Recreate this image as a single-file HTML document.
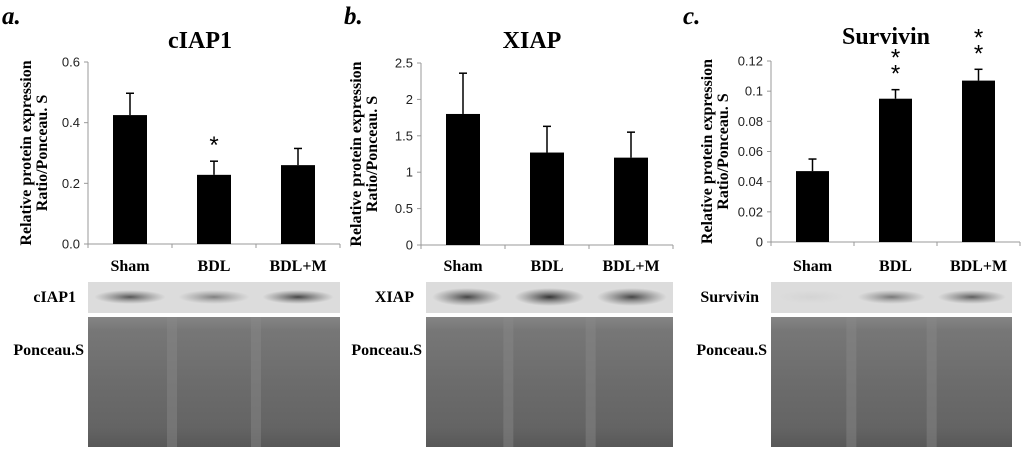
<!DOCTYPE html>
<html><head><meta charset="utf-8"><style>
html,body{margin:0;padding:0;background:#fff;width:1024px;height:453px;overflow:hidden}
svg{display:block}
.serif{font-family:"Liberation Serif",serif;font-weight:bold}
.tick{font-family:"Liberation Sans",sans-serif;font-size:13px;fill:#222}
</style></head><body>
<svg id="fig" width="1024" height="453" xmlns="http://www.w3.org/2000/svg">
<defs>
<linearGradient id="pon" x1="0" y1="0" x2="0" y2="1">
<stop offset="0" stop-color="#858585"/><stop offset="0.1" stop-color="#777"/><stop offset="0.5" stop-color="#6c6c6c"/><stop offset="0.85" stop-color="#646464"/><stop offset="1" stop-color="#585858"/>
</linearGradient>
<radialGradient id="band" cx="0.5" cy="0.5" r="0.5"><stop offset="0" stop-color="#222" stop-opacity="0.9"/><stop offset="1" stop-color="#555" stop-opacity="0"/></radialGradient>
</defs>
</svg>
<script>
var categories = ["Sham","BDL","BDL+M"];
var titles = ["cIAP1","XIAP","Survivin"];
var letters = ["a.","b.","c."];
var valuesA = [0.425, 0.228, 0.26];
var errorsA = [0.072, 0.045, 0.055];
var valuesB = [1.8, 1.27, 1.2];
var errorsB = [0.56, 0.36, 0.35];
var valuesC = [0.047, 0.095, 0.107];
var errorsC = [0.008, 0.006, 0.0075];
var ticksA = ["0.0","0.2","0.4","0.6"];
var ticksB = ["0","0.5","1","1.5","2","2.5"];
var ticksC = ["0","0.02","0.04","0.06","0.08","0.1","0.12"];
var starsA = [0,1,0];
var starsC = [0,2,2];
var bandStrength = [[0.8,0.55,0.9],[0.9,1,0.9],[0.05,0.6,0.75]];

var NS="http://www.w3.org/2000/svg";
var svg=document.getElementById('fig');
function mk(tag,attrs,parent){var e=document.createElementNS(NS,tag);for(var k in attrs)e.setAttribute(k,attrs[k]);(parent||svg).appendChild(e);return e;}

var panels=[
 {vals:valuesA,errs:errorsA,ticks:ticksA,stars:starsA,max:0.6,x0:88,x1:340,yTop:62,yBot:244,barW:34,lx:2,tx:200,ty:48,bx:88,bx1:340},
 {vals:valuesB,errs:errorsB,ticks:ticksB,stars:[0,0,0],max:2.5,x0:421,x1:673,yTop:63,yBot:245,barW:34,lx:344,tx:532,ty:48,bx:426,bx1:673},
 {vals:valuesC,errs:errorsC,ticks:ticksC,stars:starsC,max:0.12,x0:771,x1:1020,yTop:61,yBot:242,barW:33,lx:683,tx:886,ty:44,bx:771,bx1:1012}
];
panels.forEach(function(p,pi){
  var g=mk('g',{});
  
  
  function y(v){return p.yBot-(v/p.max)*(p.yBot-p.yTop);}
  var band=(p.x1-p.x0)/3;
  function xc(i){return p.x0+band*(i+0.5);}
  var t=mk('text',{x:p.lx,y:24,'class':'serif','font-size':25,'font-style':'italic'},g);t.textContent=letters[pi];
  
  
  t=mk('text',{x:p.tx,y:p.ty,'class':'serif','font-size':24,'text-anchor':'middle'},g);t.textContent=titles[pi];
  
  
  var ymid=(p.yTop+p.yBot)/2;
  var axX=p.x0-(pi==2?63:pi==1?64:61)+4;
  t=mk('text',{x:axX,y:ymid,'class':'serif','font-size':16,'text-anchor':'middle',transform:'rotate(-90 '+axX+' '+ymid+')'},g);t.textContent='Relative protein expression';
  
  
  t=mk('text',{x:axX+16,y:ymid,'class':'serif','font-size':16,'text-anchor':'middle',transform:'rotate(-90 '+(axX+16)+' '+ymid+')'},g);t.textContent='Ratio/Ponceau. S';
  
  
  mk('line',{x1:p.x0,y1:p.yTop,x2:p.x0,y2:p.yBot,stroke:'#999','stroke-width':1},g);
  mk('line',{x1:p.x0,y1:p.yBot,x2:p.x1,y2:p.yBot,stroke:'#999','stroke-width':1},g);
  p.ticks.forEach(function(lbl){
    var v=parseFloat(lbl),yy=y(v);
    mk('line',{x1:p.x0-4,y1:yy,x2:p.x0,y2:yy,stroke:'#999'},g);
    var tt=mk('text',{x:p.x0-8,y:yy+4.5,'class':'tick','text-anchor':'end'},g);tt.textContent=lbl;
    
    
  });
  for(var k=0;k<=3;k++){var xx=p.x0+band*k;mk('line',{x1:xx,y1:p.yBot,x2:xx,y2:p.yBot+4,stroke:'#999'},g);}
  categories.forEach(function(c,i){
    var v=p.vals[i],e=p.errs[i],cx=xc(i);
    var b=mk('rect',{x:cx-p.barW/2,y:y(v),width:p.barW,height:p.yBot-y(v),fill:'#000'},g);
    
    
    mk('line',{x1:cx,y1:y(v),x2:cx,y2:y(v+e),stroke:'#000','stroke-width':1.5},g);
    mk('line',{x1:cx-4,y1:y(v+e),x2:cx+4,y2:y(v+e),stroke:'#000','stroke-width':1.5},g);
    for(var s=0;s<p.stars[i];s++){
      var st=mk('text',{x:cx,y:y(v+e)+8-(p.stars[i]-s)*16,'font-family':'Liberation Sans,sans-serif','font-size':24,'text-anchor':'middle'},g);st.textContent='*';
      
      
    }
    var cl=mk('text',{x:cx,y:271,'class':'serif','font-size':16,'text-anchor':'middle'},g);cl.textContent=c;
    
    
  });
  var bl=mk('rect',{x:p.bx,y:282,width:p.bx1-p.bx,height:31,fill:'#dcdcdc'},g);
  
  
  categories.forEach(function(c,i){
    var cx=p.bx+(p.bx1-p.bx)*(i+0.5)/3, w=(p.bx1-p.bx)/3*0.85;
    mk('ellipse',{cx:cx,cy:297,rx:w/2,ry:pi==1?9:7,fill:'url(#band)',opacity:bandStrength[pi][i]},g);
  });
  var bt=mk('text',{x:p.bx-12,y:302,'class':'serif','font-size':16,'text-anchor':'end'},g);bt.textContent=titles[pi];
  
  
  var po=mk('rect',{x:p.bx,y:317,width:p.bx1-p.bx,height:130,fill:'url(#pon)'},g);
  
  
  for(var k=1;k<3;k++){var xx=p.bx+(p.bx1-p.bx)*k/3;mk('rect',{x:xx-5,y:317,width:10,height:130,fill:'#8a8a8a',opacity:0.45},g);}
  var pt=mk('text',{x:p.bx-4,y:355,'class':'serif','font-size':16,'text-anchor':'end'},g);pt.textContent='Ponceau.S';
  
  
});
</script>
</body></html>
